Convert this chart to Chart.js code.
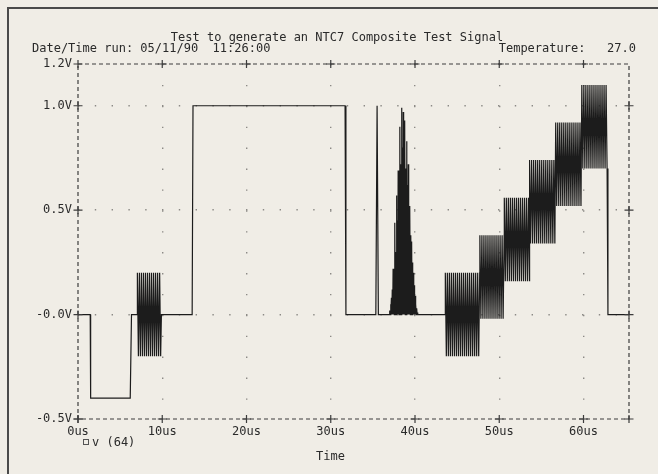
<!DOCTYPE html>
<html>
<head>
<meta charset="utf-8">
<script src="https://cdn.jsdelivr.net/npm/chart.js@4"></script>
<style>
  html, body { margin: 0; padding: 0; }
  body { width: 658px; height: 474px; background: #f0ede6; position: relative; overflow: hidden;
         font-family: "DejaVu Sans Mono", "Liberation Mono", monospace; color: #2a2a2a; }
  #frame { position: absolute; left: 7px; top: 7px; width: 700px; height: 500px;
           border-left: 2px solid #4a4a4a; border-top: 2px solid #4a4a4a; }
  canvas { position: absolute; left: 0; top: 0; }
  .t { position: absolute; font-size: 12px; line-height: 12px; white-space: pre; }
  #legbox { position: absolute; left: 83px; top: 439px; width: 4px; height: 4px; border: 1px solid #555; }
</style>
</head>
<body>
<div id="frame"></div>
<canvas id="c" width="658" height="474"></canvas>
<div class="t" id="title" style="left:0;width:674px;text-align:center;top:31px;">Test to generate an NTC7 Composite Test Signal</div>
<div class="t" style="left:32px;top:42px;">Date/Time run: 05/11/90  11:26:00</div>
<div class="t" style="right:22px;top:42px;">Temperature:   27.0</div>
<div id="legbox"></div>
<div class="t" style="left:92px;top:436px;">v (64)</div>
<div class="t" style="left:316px;top:450px;">Time</div>
<script>
// ---- axis ticks ----
const xTickValues = [0, 10, 20, 30, 40, 50, 60];
const xTickLabels = ['0us', '10us', '20us', '30us', '40us', '50us', '60us'];
const yTickValues = [-0.5, 0, 0.5, 1.0, 1.2];
const yTickLabels = ['-0.5V', '-0.0V', '0.5V', '1.0V', '1.2V'];

// ---- unmodulated parts of the signal v(64): time (us), volts ----
const syncT = [0, 1.45, 1.5, 6.2, 6.35, 7.05];
const syncV = [0, 0, -0.4, -0.4, 0, 0];
const barT = [9.9, 13.55, 13.65, 31.7, 31.8, 35.35, 35.5, 35.65, 37.0];
const barV = [0, 0, 1.0, 1.0, 0, 0, 1.0, 0, 0];
const gapT = [40.4, 43.6];
const gapV = [0, 0];
const tailT = [62.9, 65.4];
const tailV = [0, 0];

// ---- 12.5T modulated pulse: stripe tops ----
const pulseT = [37.0, 37.1, 37.2, 37.3, 37.4, 37.5, 37.6, 37.7, 37.8, 37.9, 38.0, 38.1, 38.2, 38.3, 38.4, 38.5, 38.6,
                38.7, 38.8, 38.9, 39.0, 39.1, 39.2, 39.3, 39.4, 39.5, 39.6, 39.7, 39.8, 39.9, 40.0, 40.1, 40.2, 40.3];
const pulseV = [0.02, 0.05, 0.08, 0.12, 0.22, 0.18, 0.44, 0.30, 0.57, 0.45, 0.69, 0.55, 0.90, 0.72, 0.99, 0.80, 0.97,
                0.78, 0.93, 0.70, 0.83, 0.62, 0.72, 0.50, 0.52, 0.38, 0.35, 0.25, 0.20, 0.14, 0.09, 0.05, 0.03, 0.01];

// ---- colour burst + modulated staircase blocks ----
const chromaStart = [7.05, 43.6, 47.7, 50.6, 53.6, 56.7, 59.8];
const chromaEnd   = [9.9, 47.7, 50.6, 53.6, 56.7, 59.8, 62.9];
const chromaLevel = [0.0, 0.0, 0.18, 0.36, 0.54, 0.72, 0.90];
const chromaAmp   = [0.2, 0.2, 0.2, 0.2, 0.2, 0.2, 0.2];
const stripeStep = 0.12; // us between drawn stripes, as seen in the plot

// build the point table
const pts = [];
const addPath = (T, V) => T.forEach((t, i) => pts.push({x: t, y: V[i]}));
const addChroma = (k) => {
  let up = true;
  for (let t = chromaStart[k]; t <= chromaEnd[k] + 1e-9; t += stripeStep) {
    pts.push({x: t, y: chromaLevel[k] + (up ? chromaAmp[k] : -chromaAmp[k])});
    up = !up;
  }
};
addPath(syncT, syncV);
addChroma(0);
addPath(barT, barV);
pulseT.forEach((t, i) => { pts.push({x: t, y: pulseV[i]}); pts.push({x: t + 0.05, y: 0}); });
addPath(gapT, gapV);
for (let k = 1; k < chromaStart.length; k++) addChroma(k);
pts.push({x: chromaEnd[chromaEnd.length - 1], y: 0});
addPath(tailT, tailV);

const frameColor = '#3c3c3c';
const framePlugin = {
  id: 'frame',
  afterDatasetsDraw(chart) {
    const {ctx, chartArea: a, scales: {x, y}} = chart;
    ctx.save();
    ctx.strokeStyle = frameColor;
    ctx.lineWidth = 1.2;
    ctx.setLineDash([4, 3]);
    ctx.strokeRect(a.left, a.top, a.right - a.left, a.bottom - a.top);
    ctx.setLineDash([]);
    const plus = (px, py) => {
      ctx.beginPath();
      ctx.moveTo(px - 4.5, py); ctx.lineTo(px + 4.5, py);
      ctx.moveTo(px, py - 4); ctx.lineTo(px, py + 4);
      ctx.stroke();
    };
    yTickValues.forEach(v => plus(a.left, y.getPixelForValue(v)));
    yTickValues.filter(v => v < 1.2).forEach(v => plus(a.right, y.getPixelForValue(v)));
    xTickValues.forEach(v => plus(x.getPixelForValue(v), a.bottom));
    xTickValues.filter(v => v > 0).forEach(v => plus(x.getPixelForValue(v), a.top));
    ctx.restore();
  }
};

const tickFont = {family: '"DejaVu Sans Mono", monospace', size: 12};
new Chart(document.getElementById('c'), {
  type: 'line',
  data: {
    datasets: [{
      label: 'v (64)',
      data: pts,
      borderColor: '#1c1c1c',
      borderWidth: 1.2,
      pointRadius: 0,
      tension: 0,
      fill: false
    }]
  },
  options: {
    responsive: false,
    animation: false,
    devicePixelRatio: 1,
    layout: {padding: {top: 64, right: 29, left: 0, bottom: 0}},
    plugins: {legend: {display: false}, tooltip: {enabled: false}},
    scales: {
      x: {
        type: 'linear', min: 0, max: 65.4,
        afterBuildTicks: s => { s.ticks = xTickValues.map(v => ({value: v})); },
        afterFit: s => { s.height = 55; },
        ticks: {
          autoSkip: false, maxRotation: 0, padding: 6, color: '#2a2a2a', font: tickFont,
          callback: (v, i) => xTickLabels[i]
        },
        grid: {
          drawTicks: false, lineWidth: 1.4,
          color: c => (c.tick && c.tick.value > 0 && c.tick.value < 65) ? '#8c8a86' : 'rgba(0,0,0,0)'
        },
        border: {display: false, dash: [1.4, 19.5]}
      },
      y: {
        type: 'linear', min: -0.5, max: 1.2,
        afterBuildTicks: s => { s.ticks = yTickValues.map(v => ({value: v})); },
        afterFit: s => { s.width = 78; },
        ticks: {
          autoSkip: false, padding: 6, color: '#2a2a2a', font: tickFont,
          callback: (v, i) => yTickLabels[i]
        },
        grid: {
          drawTicks: false, lineWidth: 1.4,
          color: c => (c.tick && c.tick.value > -0.5 && c.tick.value < 1.2) ? '#8c8a86' : 'rgba(0,0,0,0)'
        },
        border: {display: false, dash: [1.4, 15.4]}
      }
    }
  },
  plugins: [framePlugin]
});
</script>
</body>
</html>
